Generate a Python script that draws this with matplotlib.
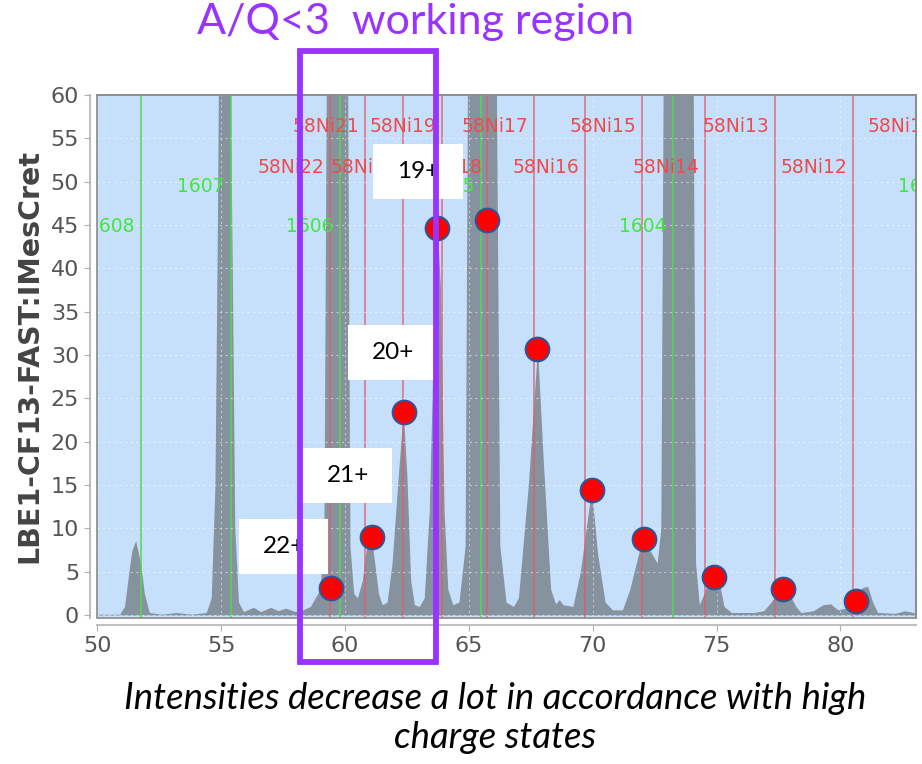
import matplotlib
matplotlib.use("Agg")
import matplotlib.pyplot as plt
from matplotlib.patches import Rectangle

# spectrum outline (x, intensity)
spec_x = [50.0, 50.9, 51.1, 51.3, 51.4, 51.55, 51.75, 51.9, 52.1, 52.6, 53.2, 53.8,
          54.4, 54.6, 54.75, 54.85, 54.9, 55.35, 55.45, 55.55, 55.7, 55.9,
          56.3, 56.6, 57.0, 57.3, 57.6, 58.0, 58.3, 58.6, 58.8, 59.0, 59.15, 59.25,
          60.1, 60.2, 60.35, 60.5, 60.7, 60.9, 61.05, 61.2, 61.35, 61.5, 61.7, 61.9,
          62.15, 62.35, 62.5, 62.65, 62.8, 63.0, 63.2, 63.4, 63.6, 63.72, 63.85, 64.0,
          64.15, 64.35, 64.6, 64.85, 64.95, 66.1, 66.25, 66.5, 66.8, 67.0, 67.4, 67.77,
          68.0, 68.3, 68.5, 68.65, 68.8, 69.2, 69.5, 69.95, 70.2, 70.5, 70.8, 71.2,
          71.5, 72.0, 72.3, 72.6, 72.75, 72.85, 74.05, 74.15, 74.3, 74.5, 74.8, 75.05,
          75.3, 75.6, 76.5, 76.9, 77.2, 77.6, 77.9, 78.2, 78.4, 78.9, 79.3, 79.6,
          79.9, 80.2, 80.5, 80.9, 81.1, 81.3, 81.5, 82.2, 82.6, 83.1]
spec_y = [0.1, 0.1, 1.0, 5.5, 7.5, 8.6, 6.0, 2.5, 0.3, 0.1, 0.3, 0.1,
          0.3, 2.0, 15, 45, 65, 65, 40, 10, 1.5, 0.4,
          0.9, 0.4, 0.9, 0.5, 0.8, 0.4, 0.6, 1.0, 2.0, 3.0, 10, 65,
          65, 8, 2.5, 2.0, 4.0, 8.5, 9.3, 6.0, 2.5, 1.2, 1.5, 6.0,
          16, 23.5, 16, 4.0, 1.2, 1.0, 2.0, 12, 35, 44.8, 38, 12,
          3.0, 1.2, 1.5, 8.0, 65, 65, 8.0, 1.5, 1.0, 2.0, 15, 30.8,
          18, 3.0, 1.3, 1.8, 1.2, 1.0, 5.0, 14.5, 7.0, 1.5, 0.6, 0.6,
          3.0, 8.8, 7.5, 6.0, 10, 65, 65, 6.0, 1.2, 2.5, 5.0, 4.5,
          1.0, 0.3, 0.3, 0.5, 1.5, 3.2, 2.6, 1.0, 0.3, 0.5, 1.2, 1.3,
          0.6, 0.8, 1.8, 3.2, 3.3, 1.5, 0.3, 0.2, 0.5, 0.2]

# 58Ni charge-state lines and labels
ni_labels = ["58Ni22", "58Ni21", "58Ni20", "58Ni19", "58Ni18", "58Ni17",
             "58Ni16", "58Ni15", "58Ni14", "58Ni13", "58Ni12", "58Ni11"]
ni_x = [59.38, 60.82, 62.35, 63.93, 65.75, 67.63, 69.68, 71.99, 74.55, 77.34, 80.51, 84.0]
ni_label_y = [51.65, 56.35] * 6

# 16O lines
o_labels = ["1608", "1607", "1606", "1605", "1604", "1603"]
o_x = [51.75, 55.39, 59.79, 65.50, 73.23, 84.5]
o_label_y = [44.8, 49.4] * 3

# measured intensities (red dots)
dot_x = [59.42, 61.07, 62.40, 63.72, 65.75, 67.77, 69.96, 72.08, 74.91, 77.67, 80.64]
dot_y = [3.1, 9.0, 23.4, 44.6, 45.6, 30.7, 14.4, 8.8, 4.4, 3.0, 1.6]

# charge state call-outs: text, lower-left x, lower-left y
box_text = ["22+", "21+", "20+", "19+"]
box_x = [55.73, 58.31, 60.14, 61.15]
box_y = [4.73, 12.98, 27.1, 48.0]
box_w, box_h = 3.6, 6.35

purple = "#9933ff"

fig = plt.figure(figsize=(9.22, 7.64), dpi=100)
ax = fig.add_axes([0.1055, 0.1915, 0.8880, 0.6842])
ax.set_facecolor("#c6e0fb")

ax.fill_between(spec_x, spec_y, 0, color="#86929e", lw=0, zorder=1)

for x in ni_x:
    ax.axvline(x, color="#e35b66", lw=1.1, alpha=0.85, zorder=2)
for x in o_x:
    ax.axvline(x, color="#55d655", lw=1.1, zorder=2)

for lab, x, y in zip(ni_labels, ni_x, ni_label_y):
    ax.annotate(lab, (x, y), xytext=(-4, 0), textcoords="offset points",
                ha="right", va="center", color="#f04a4a", fontsize=13.5,
                annotation_clip=False, clip_on=True, zorder=3)
for lab, x, y in zip(o_labels, o_x, o_label_y):
    ax.annotate(lab, (x, y), xytext=(-4.5, 0), textcoords="offset points",
                ha="right", va="center", color="#3ee83e", fontsize=13.5,
                annotation_clip=False, clip_on=True, zorder=3)

ax.scatter(dot_x, dot_y, s=290, color="#ff0000", edgecolor="#2f5597",
           linewidth=1.5, zorder=4)

for t, x, y in zip(box_text, box_x, box_y):
    ax.add_patch(Rectangle((x, y), box_w, box_h, facecolor="white",
                           edgecolor="none", zorder=5))
    ax.text(x + box_w / 2, y + box_h / 2, t, ha="center", va="center",
            fontsize=17.5, family="Lato", color="black", zorder=6)

ax.set_xlim(50, 83.05)
ax.set_ylim(-0.3, 60)
ax.set_xticks(range(50, 81, 5))
ax.set_yticks(range(0, 61, 5))
ax.grid(True, color="white", ls=(0, (2, 3)), lw=0.8, alpha=0.5)
ax.set_axisbelow(False)

for s in ["top", "right"]:
    ax.spines[s].set_color("#8a8a8a")
    ax.spines[s].set_linewidth(1.2)
for s in ["left", "bottom"]:
    ax.spines[s].set_position(("outward", 5.5))
    ax.spines[s].set_color("#c0c0c0")
    ax.spines[s].set_linewidth(1.5)
ax.add_patch(Rectangle((0, 0), 1, 1, transform=ax.transAxes, fill=False,
                       edgecolor="#8a8a8a", lw=1.2, zorder=7, clip_on=False))
ax.tick_params(colors="#b0b0b0", labelcolor="#555555", labelsize=16, length=4)

ax.set_ylabel("LBE1-CF13-FAST:IMesCret", fontsize=20.5, fontweight="bold",
              color="#444444", labelpad=5)

# A/Q<3 working region frame and title
fig.add_artist(Rectangle((300 / 922, 1 - 662 / 764), 136 / 922, 611 / 764,
                         transform=fig.transFigure, fill=False,
                         edgecolor=purple, lw=4.2, zorder=10))
fig.text(416 / 922, 1 - 22 / 764, "A/Q<3  working region", color=purple,
         fontsize=31, family="Lato", ha="center", va="center")

fig.text(495 / 922, 1 - 718 / 764,
         "Intensities decrease a lot in accordance with high\ncharge states",
         fontsize=26.3, family="Lato", style="italic", ha="center", va="center",
         linespacing=1.2)

fig.savefig("out.png", dpi=100)
